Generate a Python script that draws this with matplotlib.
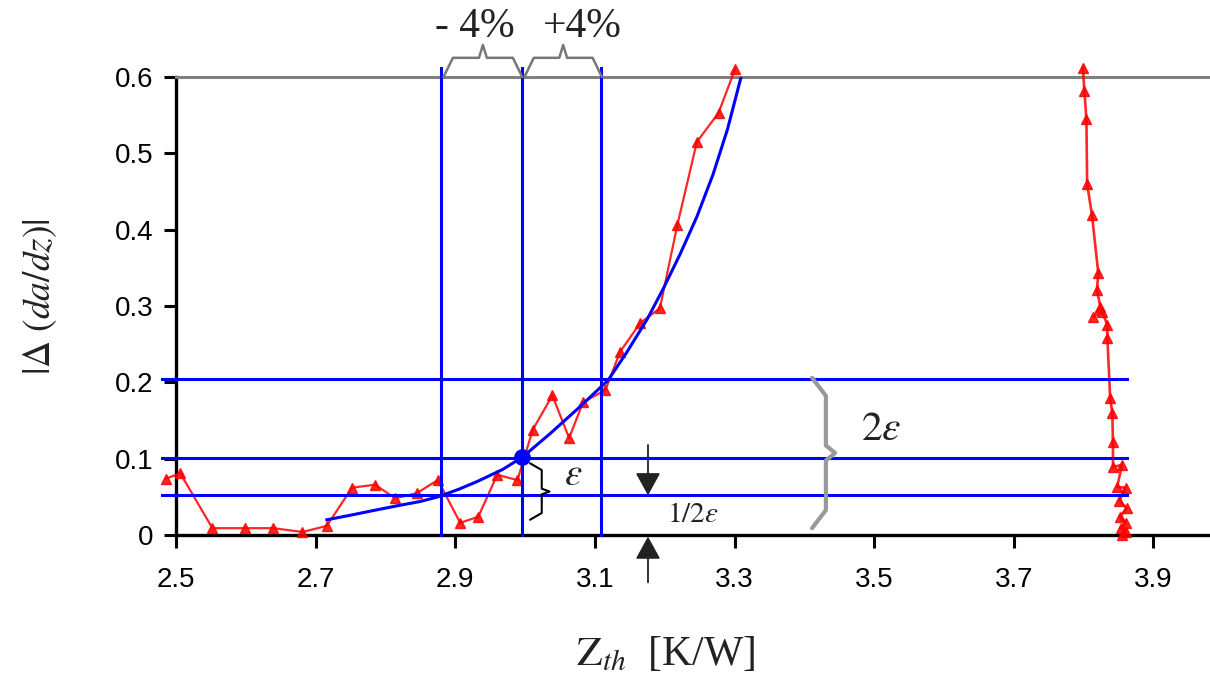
import matplotlib
matplotlib.use('Agg')
import matplotlib.pyplot as plt

plt.rcParams['mathtext.fontset'] = 'stix'
plt.rcParams['font.family'] = ['Liberation Sans', 'DejaVu Sans']

# measured curve, left branch (Z_th, |delta(da/dz)|)
z_left = [2.486, 2.506, 2.552, 2.599, 2.639, 2.681, 2.716, 2.752, 2.785, 2.814,
          2.845, 2.875, 2.907, 2.933, 2.960, 2.989, 3.011, 3.039, 3.063, 3.083,
          3.115, 3.136, 3.165, 3.193, 3.218, 3.246, 3.277, 3.301]
d_left = [0.074, 0.081, 0.009, 0.009, 0.009, 0.004, 0.012, 0.062, 0.066, 0.048,
          0.055, 0.072, 0.016, 0.024, 0.079, 0.072, 0.138, 0.183, 0.127, 0.174,
          0.190, 0.240, 0.278, 0.297, 0.406, 0.515, 0.553, 0.611]

# measured curve, right branch
z_right = [3.799, 3.801, 3.804, 3.805, 3.812, 3.821, 3.819, 3.824, 3.814, 3.827,
           3.834, 3.834, 3.838, 3.841, 3.842, 3.842, 3.855, 3.848, 3.860, 3.851,
           3.862, 3.852, 3.860, 3.853, 3.861, 3.855]
d_right = [0.612, 0.582, 0.545, 0.460, 0.419, 0.343, 0.321, 0.299, 0.286, 0.292,
           0.275, 0.258, 0.180, 0.160, 0.122, 0.089, 0.092, 0.063, 0.062, 0.045,
           0.035, 0.024, 0.016, 0.009, 0.004, 0.000]

# fitted curve
z_fit = [2.716, 2.750, 2.782, 2.815, 2.850, 2.875, 2.905, 2.931, 2.968, 2.996,
         3.036, 3.076, 3.119, 3.146, 3.175, 3.198, 3.222, 3.246, 3.269, 3.290,
         3.309]
d_fit = [0.020, 0.026, 0.032, 0.038, 0.044, 0.050, 0.060, 0.070, 0.086, 0.102,
         0.133, 0.166, 0.203, 0.240, 0.283, 0.323, 0.368, 0.417, 0.472, 0.532,
         0.599]

z_opt = 2.996
d_opt = 0.102
z_bounds = [2.879, 2.996, 3.109]      # -4 %, optimum, +4 %
d_levels = [0.204, 0.101, 0.052]      # 2eps, eps, eps/2

fig = plt.figure(figsize=(12.1, 6.73), dpi=100)
ax = fig.add_axes([0.1455, 0.205, 0.8545, 0.6805])

ax.plot(z_left, d_left, color='red', lw=1.6, marker='^', ms=6.5, alpha=0.85,
        clip_on=False, zorder=3)
ax.plot(z_right, d_right, color='red', lw=1.9, marker='^', ms=6.5, alpha=0.85,
        clip_on=False, zorder=3)
ax.plot(z_fit, d_fit, color='blue', lw=2.2, zorder=4)
ax.plot([z_opt], [d_opt], 'o', color='blue', ms=11, zorder=5)

for z in z_bounds:
    ax.plot([z, z], [0, 0.612], color='blue', lw=2.2, clip_on=False, zorder=4)
for d in d_levels:
    ax.plot([2.48, 3.862], [d, d], color='blue', lw=2.2, clip_on=False, zorder=4)

ax.set_xlim(2.5, 3.981)
ax.set_ylim(0, 0.6)
ax.set_xticks([2.5, 2.7, 2.9, 3.1, 3.3, 3.5, 3.7, 3.9])
ax.set_yticks([0, 0.1, 0.2, 0.3, 0.4, 0.5, 0.6])
ax.set_yticklabels(['0', '0.1', '0.2', '0.3', '0.4', '0.5', '0.6'])
ax.tick_params(axis='both', labelsize=20, length=9, width=2.2, direction='out')
ax.tick_params(axis='x', pad=14)
ax.tick_params(axis='y', pad=7)
for s in ['left', 'bottom']:
    ax.spines[s].set_linewidth(2.4)
ax.spines['right'].set_visible(False)
ax.spines['top'].set_color('gray')
ax.spines['top'].set_linewidth(2.2)


# curly brace built from line segments
def brace(x0, y0, x1, y1, h, vertical, color='#555', lw=1.8):
    k = 0.12
    if vertical:
        ym = (y0 + y1) / 2
        xs = [x0, x0 + h * 0.6, x0 + h * 0.6, x0 + h, x0 + h * 0.6, x0 + h * 0.6, x0]
        ys = [y0, y0 + (y1 - y0) * k, ym - (y1 - y0) * 0.05, ym,
              ym + (y1 - y0) * 0.05, y1 - (y1 - y0) * k, y1]
    else:
        xm = (x0 + x1) / 2
        xs = [x0, x0 + (x1 - x0) * k, xm - (x1 - x0) * 0.05, xm,
              xm + (x1 - x0) * 0.05, x1 - (x1 - x0) * k, x1]
        ys = [y0, y0 + h * 0.6, y0 + h * 0.6, y0 + h, y0 + h * 0.6, y0 + h * 0.6, y0]
    ax.plot(xs, ys, color=color, lw=lw, clip_on=False, zorder=6,
            solid_capstyle='round', solid_joinstyle='round')


brace(2.883, 0.6, 2.996, 0.6, 0.042, False, color='#777')
brace(2.999, 0.6, 3.110, 0.6, 0.042, False, color='#777')
brace(3.007, 0.094, 3.007, 0.020, 0.028, True, color='black', lw=1.5)
brace(3.411, 0.206, 3.411, 0.009, 0.033, True, color='#999', lw=3)

serif = dict(family=['Liberation Serif', 'DejaVu Serif'], color='#222')
ax.text(2.928, 0.666, '- 4%', fontsize=30, ha='center', va='center', **serif)
ax.text(3.082, 0.666, '+4%', fontsize=30, ha='center', va='center', **serif)
ax.text(3.069, 0.078, r'$\varepsilon$', fontsize=28, ha='center', va='center', **serif)
ax.text(3.510, 0.138, r'$2\varepsilon$', fontsize=30, ha='center', va='center', **serif)
ax.text(3.240, 0.026, r'$1/2\varepsilon$', fontsize=21, ha='center', va='center', **serif)

arrow = dict(arrowstyle='-|>,head_length=1.0,head_width=0.55', mutation_scale=14,
             color='#222', lw=1.3, shrinkA=0, shrinkB=0)
ax.annotate('', xy=(3.176, 0.052), xytext=(3.176, 0.118), annotation_clip=False,
            arrowprops=arrow)
ax.annotate('', xy=(3.176, -0.002), xytext=(3.176, -0.062), annotation_clip=False,
            arrowprops=arrow)

fig.text(0.550, 0.027, r'$\mathrm{Z}_{th}$  [K/W]', fontsize=30, ha='center',
         va='center', **serif)
fig.text(0.033, 0.559, r'$|\Delta\ (da/dz)|$', fontsize=27, ha='center',
         va='center', rotation=90, **serif)

fig.savefig('out.png', dpi=100)
